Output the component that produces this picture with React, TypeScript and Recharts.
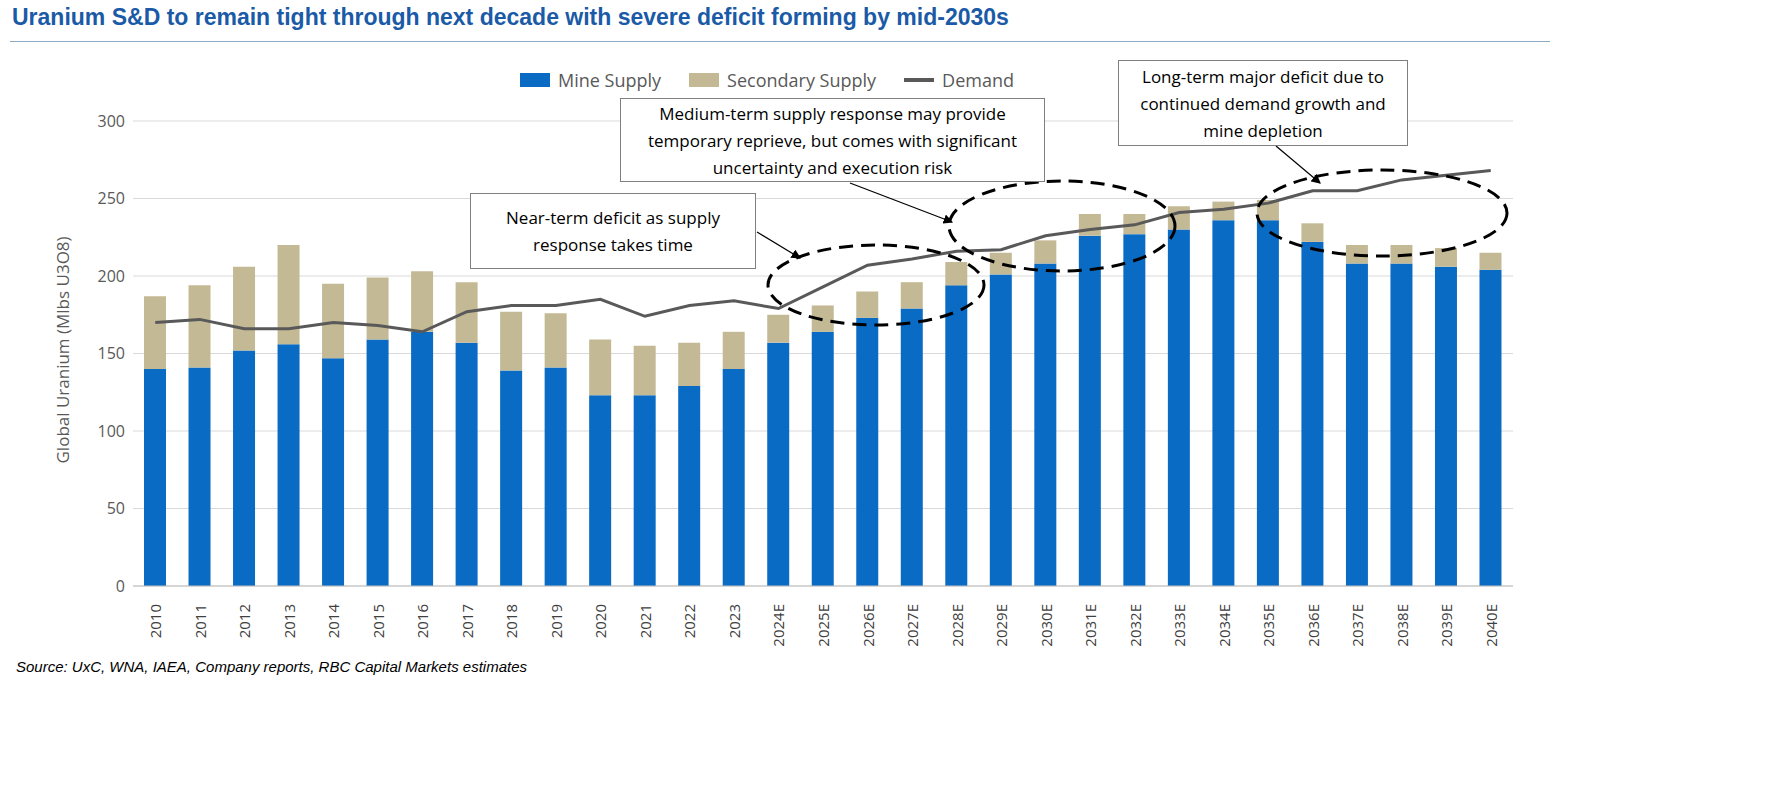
import { ComposedChart, Bar, Line, XAxis, YAxis, CartesianGrid } from "recharts";

const years = ["2010","2011","2012","2013","2014","2015","2016","2017","2018","2019","2020","2021","2022","2023","2024E","2025E","2026E","2027E","2028E","2029E","2030E","2031E","2032E","2033E","2034E","2035E","2036E","2037E","2038E","2039E","2040E"];
const mineSupply = [140,141,152,156,147,159,164,157,139,141,123,123,129,140,157,164,173,179,194,201,208,226,227,230,236,236,222,208,208,206,204];
const totalSupply = [187,194,206,220,195,199,203,196,177,176,159,155,157,164,175,181,190,196,209,215,223,240,240,245,248,249,234,220,220,218,215];
const demand = [170,172,166,166,170,168,164,177,181,181,185,174,181,184,179,193,207,211,216,217,226,230,233,241,243,247,255,255,262,265,268];
const yTicks = [0,50,100,150,200,250,300];

const data = years.map((y, i) => ({
  year: y,
  mine: mineSupply[i],
  secondary: totalSupply[i] - mineSupply[i],
  demand: demand[i],
}));

const FONT = "'Liberation Sans', Arial, sans-serif";
const LABEL = "'Open Sans', 'Noto Sans', sans-serif";

const YearTick = ({ x, y, payload }: any) => (
  <text x={x} y={y + 10} transform={`rotate(-90 ${x} ${y + 10})`} textAnchor="end" dominantBaseline="central" fontSize={15} fill="#404040" fontFamily={LABEL}>
    {payload.value}
  </text>
);

const boxStyle: any = {
  position: "absolute", border: "1px solid #7f7f7f", background: "#fff", fontFamily: LABEL,
  fontSize: 17, lineHeight: "27px", color: "#000", textAlign: "center", display: "flex",
  alignItems: "center", justifyContent: "center", boxSizing: "border-box",
};

export default function App() {
  return (
    <div style={{ position: "absolute", left: 0, top: 0, width: 1770, height: 786, background: "#fff", overflow: "hidden" }}>
      <div style={{ position: "absolute", left: 12, top: 4, fontFamily: FONT, fontWeight: "bold", fontSize: 23, color: "#1a5aa6" }}>
        Uranium S&amp;D to remain tight through next decade with severe deficit forming by mid-2030s
      </div>
      <div style={{ position: "absolute", left: 10, top: 41, width: 1540, height: 1, background: "#8faac4" }} />
      <ComposedChart width={1770} height={680} data={data} margin={{ top: 121, right: 257, left: 0, bottom: 0 }}>
        <CartesianGrid vertical={false} stroke="#d9d9d9" />
        <XAxis dataKey="year" tick={<YearTick />} interval={0} height={94} stroke="#bfbfbf" tickLine={false} />
        <YAxis domain={[0, 300]} ticks={yTicks} width={133} axisLine={false} tickLine={false}
          tick={{ fontSize: 16, fill: "#595959", fontFamily: LABEL }}
          label={{ value: "Global Uranium (Mlbs U3O8)", angle: -90, position: "insideLeft", dx: 58, dy: 110, fill: "#595959", fontSize: 17, fontFamily: LABEL }} />
        <Bar dataKey="mine" stackId="s" fill="#0a6bc4" barSize={22} isAnimationActive={false} />
        <Bar dataKey="secondary" stackId="s" fill="#c4b995" barSize={22} isAnimationActive={false} />
        <Line dataKey="demand" stroke="#595959" strokeWidth={3} dot={false} isAnimationActive={false} />
      </ComposedChart>

      <div style={{ position: "absolute", top: 68, left: 520, display: "flex", alignItems: "center", fontFamily: LABEL, fontSize: 18, color: "#595959" }}>
        <span style={{ width: 30, height: 14, background: "#0a6bc4", marginRight: 8 }} />Mine Supply
        <span style={{ width: 30, height: 14, background: "#c4b995", margin: "0 8px 0 28px" }} />Secondary Supply
        <span style={{ width: 30, height: 4, background: "#595959", margin: "0 8px 0 28px" }} />Demand
      </div>

      <svg width={1770} height={786} style={{ position: "absolute", left: 0, top: 0, pointerEvents: "none" }}>
        <defs>
          <marker id="ah" markerWidth="8" markerHeight="8" refX="7" refY="4" orient="auto">
            <path d="M0,0 L8,4 L0,8 Z" fill="#000" />
          </marker>
        </defs>
        <g fill="none" stroke="#000" strokeWidth={3} strokeDasharray="14 8">
          <ellipse cx={876} cy={285} rx={108} ry={40} />
          <ellipse cx={1062} cy={226} rx={113} ry={45} />
          <ellipse cx={1382} cy={213} rx={125} ry={43} />
        </g>
        <g stroke="#000" strokeWidth={1.2} markerEnd="url(#ah)">
          <line x1={757} y1={232} x2={800} y2={258} />
          <line x1={850} y1={183} x2={952} y2={222} />
          <line x1={1276} y1={146} x2={1320} y2={183} />
        </g>
      </svg>

      <div style={{ ...boxStyle, left: 470, top: 193, width: 286, height: 76 }}>Near-term deficit as supply<br />response takes time</div>
      <div style={{ ...boxStyle, left: 620, top: 98, width: 425, height: 84 }}>Medium-term supply response may provide<br />temporary reprieve, but comes with significant<br />uncertainty and execution risk</div>
      <div style={{ ...boxStyle, left: 1118, top: 60, width: 290, height: 86 }}>Long-term major deficit due to<br />continued demand growth and<br />mine depletion</div>

      <div style={{ position: "absolute", left: 16, top: 658, fontFamily: FONT, fontStyle: "italic", fontSize: 15, color: "#000" }}>
        Source: UxC, WNA, IAEA, Company reports, RBC Capital Markets estimates
      </div>
    </div>
  );
}
